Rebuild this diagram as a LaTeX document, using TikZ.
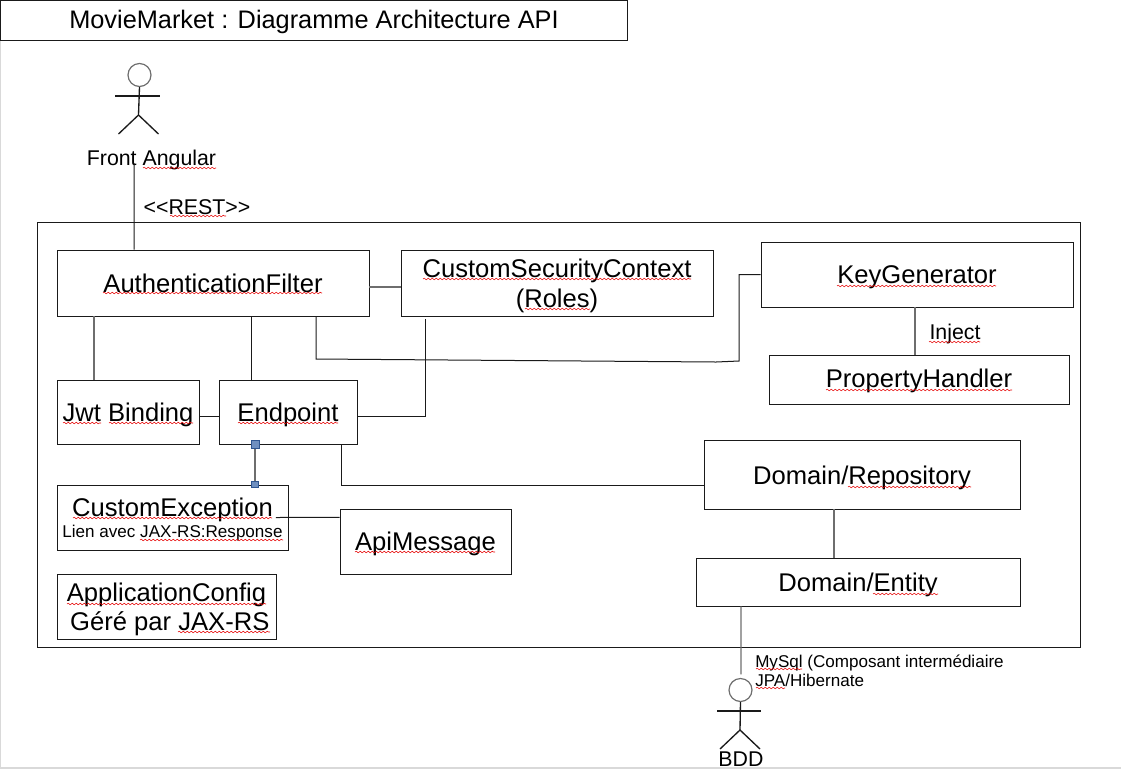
\documentclass[tikz,border=0pt]{standalone}
\usepackage{fontspec}
\setmainfont{Liberation Sans}
\usetikzlibrary{decorations.pathmorphing}
\newcommand{\bigfont}{\fontsize{19.2}{23}\selectfont}
\newcommand{\midfont}{\fontsize{16}{19.2}\selectfont}
\newcommand{\smfont}{\fontsize{12.8}{14}\selectfont}
\newcommand{\squig}[3]{\draw[squiggle] (#1,#3) -- (#2,#3);}
\definecolor{ink}{HTML}{1A1A1A}
\definecolor{soft}{HTML}{6E6E6E}
\definecolor{frameline}{HTML}{D9D9D9}
\definecolor{handlefill}{HTML}{6F8FBF}
\definecolor{handleline}{HTML}{2F5590}
\tikzset{
  boxnode/.style={draw=ink,line width=.7pt,inner sep=0pt,align=center,font=\bigfont,text=black},
  oneline/.style={text height=#1,text depth=0pt},
  label/.style={inner sep=0pt,align=center,font=\midfont,text=black,anchor=base},
  wire/.style={draw=ink,line width=.75pt},
  softwire/.style={draw=soft,line width=.9pt},
  limb/.style={draw=ink,line width=1pt},
  head/.style={circle,draw=soft,line width=.9pt,minimum size=17.25pt,inner sep=0pt},
  handle/.style={rectangle,draw=handleline,fill=handlefill,line width=.6pt,inner sep=0pt},
  squiggle/.style={draw=red!90!black,line width=.4pt,decorate,decoration={snake,segment length=3pt,amplitude=.6pt}}
}
\begin{document}
\begin{tikzpicture}[x=.75pt,y=-.75pt]
\useasboundingbox (0,0) rectangle (1121,769);
\draw[frameline,line width=1pt] (.5,0) -- (.5,768) -- (1121,768);

\node[boxnode,oneline=12.75pt,minimum width=470.25pt,minimum height=30pt] (title) at (314,20) {\fontsize{19}{23}\selectfont MovieMarket : Diagramme Architecture API};
\node[boxnode,minimum width=782pt,minimum height=318.75pt] (outer) at (559,434.5) {};

\node[boxnode,oneline=13.5pt,minimum width=234pt,minimum height=49.5pt] (auth) at (213,283) {AuthenticationFilter};
\node[boxnode,minimum width=234pt,minimum height=49.5pt] (csc) at (557,283) {\rule{0pt}{18.5pt}CustomSecurityContext\\[-.5pt](Roles)};
\node[boxnode,oneline=12.75pt,minimum width=234pt,minimum height=48.75pt] (key) at (917,274.5) {KeyGenerator};
\node[boxnode,oneline=12.3pt,minimum width=225pt,minimum height=36.75pt] (prop) at (919,379.5) {PropertyHandler};
\node[boxnode,oneline=13.5pt,minimum width=106.5pt,minimum height=48pt] (jwt) at (128,412) {Jwt Binding};
\node[boxnode,oneline=13.5pt,minimum width=103.5pt,minimum height=48pt] (endpoint) at (288,412) {Endpoint};
\node[boxnode,minimum width=173.25pt,minimum height=48.75pt] (exc) at (172.5,517.5) {\rule{0pt}{17pt}CustomException\\[-7.25pt]{\smfont Lien avec JAX-RS:Response}};
\node[boxnode,oneline=12.75pt,minimum width=128.25pt,minimum height=48.75pt] (api) at (425.5,541.5) {ApiMessage};
\node[boxnode,minimum width=164.25pt,minimum height=48.75pt] (config) at (166.5,606.5) {\rule{0pt}{18pt}ApplicationConfig\\[-.75pt]\hspace*{5pt}Géré par JAX-RS};
\node[boxnode,oneline=14.25pt,minimum width=237pt,minimum height=51.75pt] (repo) at (862,474.5) {Domain/Repository};
\node[boxnode,oneline=13.5pt,minimum width=243pt,minimum height=36pt] (entity) at (858,582) {Domain/Entity};

\node[label] (front) at (151.5,165) {Front Angular};
\node[label] (rest) at (197,214.5) {<{}<REST>{}>};
\node[label] (inject) at (955,339.5) {Inject};
\node[label,anchor=north west,align=left,font=\smfont] (mysql) at (755,655) {MySql (Composant intermédiaire\\JPA/Hibernate};
\node[label] (bdd) at (741,766.5) {BDD};

\node[head] (fronthead) at (139.5,75) {};
\coordinate (frontarml) at (115,96);
\coordinate (frontarmr) at (160,96);
\coordinate (frontfork) at (138.5,115);
\coordinate (frontlegl) at (118.5,134);
\coordinate (frontlegr) at (158.5,134);
\draw[limb] (fronthead.south) -- (frontfork);
\draw[limb] (frontarml) -- (frontarmr);
\draw[limb] (frontlegl) -- (frontfork) -- (frontlegr);

\node[head] (bddhead) at (740.5,690) {};
\coordinate (bddarml) at (717,711);
\coordinate (bddarmr) at (761,711);
\coordinate (bddfork) at (740,730);
\coordinate (bddlegl) at (720,749);
\coordinate (bddlegr) at (760,749);
\draw[limb] (bddhead.south) -- (bddfork);
\draw[limb] (bddarml) -- (bddarmr);
\draw[limb] (bddlegl) -- (bddfork) -- (bddlegr);

\draw[wire] ([xshift=-13.1pt,yshift=4.6pt]front.south) -- ([xshift=-59.25pt]auth.north);
\draw[softwire] ([yshift=-3pt]auth.east) -- ([yshift=-3pt]csc.west);
\draw[softwire] ([xshift=-89.25pt]auth.south) -- ([xshift=-25.5pt]jwt.north);
\draw[wire] ([xshift=28.5pt]auth.south) -- ([xshift=-27.75pt]endpoint.north);
\coordinate (kbendA) at (316,359);
\coordinate (kbendB) at (716,362);
\coordinate (kbendC) at (739,361);
\draw[wire] ([xshift=77.25pt]auth.south) -- (kbendA) -- (kbendB) -- (kbendC) |- (key.west);
\draw[wire] ([xshift=-99pt,yshift=-2.25pt]csc.south) |- ([yshift=-3pt]endpoint.east);
\draw[wire] ([yshift=-3.5pt]jwt.east) -- ([yshift=-3.5pt]endpoint.west);
\draw[softwire] ([xshift=-24.75pt]endpoint.south) -- ([xshift=61.875pt]exc.north);
\draw[wire] ([xshift=39.75pt]endpoint.south) |- ([yshift=-7.875pt]repo.west);
\draw[wire] ([xshift=77.6pt]exc.center) -- ([yshift=18.15pt]api.west);
\draw[softwire] ([xshift=-21pt]repo.south) -- ([xshift=-18pt]entity.north);
\draw[softwire] ([xshift=-1.5pt]key.south) -- ([xshift=-3pt]prop.north);
\draw[softwire] ([xshift=-87.75pt]entity.south) -- ([xshift=.4pt,yshift=2.6pt]bddhead.north);

\node[handle,minimum size=6pt] (handletop) at ([xshift=-24.75pt]endpoint.south) {};
\node[handle,minimum size=5pt] (handlebottom) at ([xshift=61.875pt]exc.north) {};

\squig{143}{216}{168}
\squig{170}{226}{216}
\squig{103}{322}{293}
\squig{423}{691}{279}
\squig{525}{590}{309}
\squig{837}{996}{286}
\squig{929}{980}{342}
\squig{826}{1012}{390}
\squig{63}{101}{423}
\squig{109}{193}{423}
\squig{238}{338}{423}
\squig{73}{272}{518}
\squig{140}{283}{540}
\squig{355}{495}{552}
\squig{67}{266}{604}
\squig{178}{270}{632}
\squig{848}{971}{487}
\squig{873}{938}{594}
\squig{756}{802}{669}
\squig{756}{785}{688}
\end{tikzpicture}
\end{document}
